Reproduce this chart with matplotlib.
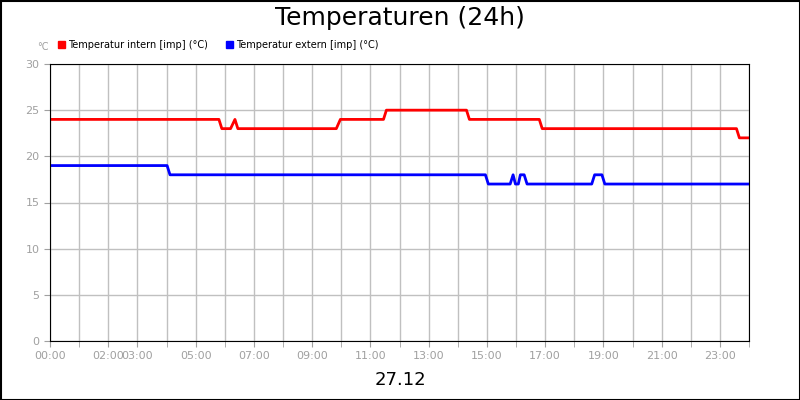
import matplotlib
matplotlib.use("Agg")
import matplotlib.pyplot as plt
from matplotlib.patches import Rectangle

red_t = [0, 5.8, 5.9, 6.2, 6.35, 6.45, 9.83, 9.97, 11.45, 11.55, 14.3, 14.4, 16.8, 16.9, 23.57, 23.67, 24]
red_v = [24, 24, 23, 23, 24, 23, 23, 24, 24, 25, 25, 24, 24, 23, 23, 22, 22]
blue_t = [0, 4.02, 4.12, 14.95, 15.05, 15.8, 15.9, 15.98, 16.08, 16.15, 16.28, 16.38, 18.6, 18.7, 18.95, 19.05, 24]
blue_v = [19, 19, 18, 18, 17, 17, 18, 17, 17, 18, 18, 17, 17, 18, 18, 17, 17]
xtick_pos = [0, 2, 3, 5, 7, 9, 11, 13, 15, 17, 19, 21, 23]
xtick_lab = ["00:00", "02:00", "03:00", "05:00", "07:00", "09:00", "11:00", "13:00", "15:00", "17:00", "19:00", "21:00", "23:00"]

fig = plt.figure(figsize=(8, 4), dpi=100)
ax = fig.add_axes([50/800, 1-341/400, 699/800, 277/400])
ax.plot(red_t, red_v, color="#ff0000", lw=2)
ax.plot(blue_t, blue_v, color="#0000ff", lw=2)
ax.set_xlim(0, 24)
ax.set_ylim(0, 30)
ax.set_xticks(range(25), minor=False)
ax.set_xticks(xtick_pos)
ax.set_xticklabels(xtick_lab)
ax.set_xticks(range(25), minor=True)
ax.set_yticks(range(0, 31, 5))
ax.grid(True, which="both", axis="x", color="#c0c0c0", lw=1)
ax.grid(True, which="major", axis="y", color="#c0c0c0", lw=1)
ax.set_axisbelow(True)
ax.tick_params(colors="#a0a0a0", labelsize=8, length=4, which="both")
ax.tick_params(axis="x", which="minor", length=4)
for s in ax.spines.values():
    s.set_color("black")
fig.text(0.5, 0.955, "Temperaturen (24h)", ha="center", va="center", fontsize=18)
fig.text(0.5, 0.05, "27.12", ha="center", va="center", fontsize=13)
fig.text(37/800, 1-47/400, "°C", ha="left", va="center", fontsize=7, color="#a0a0a0")
fig.patches.append(Rectangle((58/800, 1-48/400), 7/800, 7/400, transform=fig.transFigure, color="#ff0000"))
fig.text(68/800, 1-44.5/400, "Temperatur intern [imp] (°C)", fontsize=7, va="center")
fig.patches.append(Rectangle((226/800, 1-48/400), 7/800, 7/400, transform=fig.transFigure, color="#0000ff"))
fig.text(236/800, 1-44.5/400, "Temperatur extern [imp] (°C)", fontsize=7, va="center")
fig.patches.append(Rectangle((0.5/800, 0.5/400), 799/800, 399/400, transform=fig.transFigure, fill=False, edgecolor="black", lw=1.5))
fig.savefig("out.png", dpi=100)
